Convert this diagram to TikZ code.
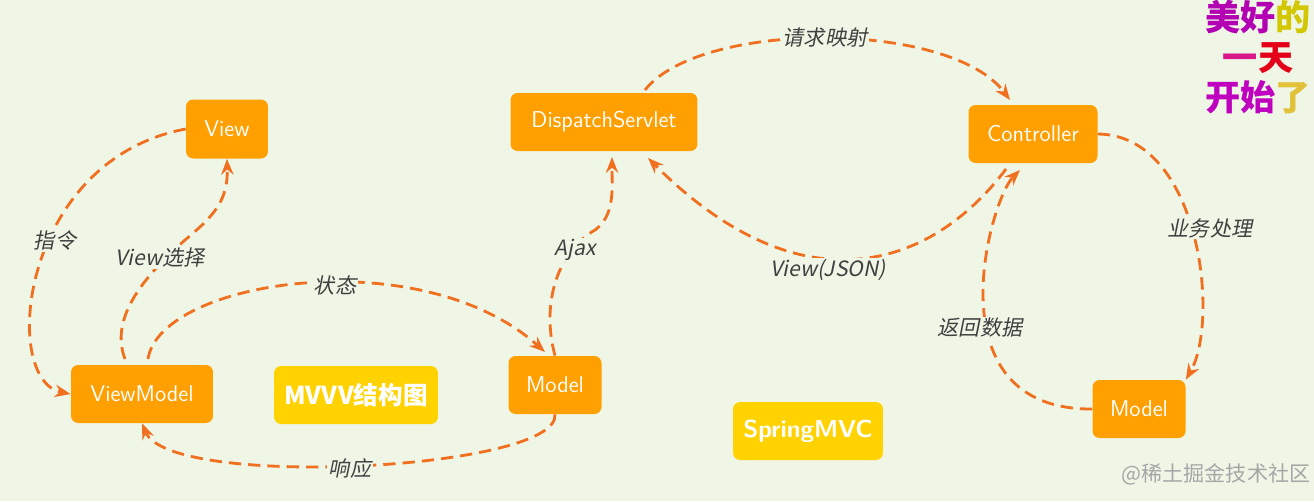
\documentclass[tikz,border=0pt]{standalone}
\usepackage{fontspec}
\setmainfont{Open Sans}
\newfontfamily\cjk{Noto Sans CJK SC}
\newfontfamily\cjki{Noto Sans CJK SC}[FakeSlant=0.2]
\usetikzlibrary{arrows.meta}
\definecolor{bg}{HTML}{EFF6E6}
\definecolor{org}{HTML}{FF9F00}
\definecolor{yel}{HTML}{FFD200}
\definecolor{ln}{HTML}{F07020}
\begin{document}
\begin{tikzpicture}[x=0.02cm,y=-0.02cm,
 box/.style={fill=org,rounded corners=4pt,text=white,font=\sffamily\fontsize{13}{15}\selectfont,inner sep=0pt},
 ybox/.style={box,fill=yel,font=\bfseries\cjk\fontsize{14}{16}\selectfont},
 ar/.style={draw=ln,line width=1.6pt,dash pattern=on 7pt off 4pt,-{Stealth[length=9pt,width=7pt]}},
 lab/.style={font=\cjki\fontsize{12}{14}\selectfont,text=black!75,fill=bg,inner sep=1pt}]
\fill[bg] (0,0) rectangle (1314,501);
\useasboundingbox (0,0) rectangle (1314,501);
\node[box,minimum width=1.64cm,minimum height=1.18cm] (view) at (227,129) {View};
\node[box,minimum width=2.84cm,minimum height=1.16cm] (vm) at (142,394) {ViewModel};
\node[ybox,minimum width=3.28cm,minimum height=1.16cm] (mvvv) at (356,395) {MVVV结构图};
\node[box,minimum width=1.86cm,minimum height=1.16cm] (m1) at (555,385) {Model};
\node[box,minimum width=3.74cm,minimum height=1.16cm] (ds) at (604,122) {DispatchServlet};
\node[box,minimum width=2.58cm,minimum height=1.16cm] (ctl) at (1033,134) {Controller};
\node[box,minimum width=1.86cm,minimum height=1.16cm] (m2) at (1139,409) {Model};
\node[ybox,font=\bfseries\sffamily\fontsize{14}{16}\selectfont,minimum width=3.0cm,minimum height=1.16cm] (sp) at (808,431) {SpringMVC};
\coordinate (b) at (125,359);
\coordinate (c) at (148,359);
\coordinate (d) at (1006,169);
\coordinate (e) at (645,90);
\coordinate (f) at (1010,100);
\coordinate (g) at (545,352);
\coordinate (h) at (612,157);
\coordinate (k) at (648,158);
\coordinate (l) at (1020,170);
\draw[ar] (view.west) .. controls (20,160) and (0,380) .. (vm.west);
\draw[ar] (b) .. controls (110,320) and (140,280) .. (185,240) .. controls (215,215) and (228,200) .. (view.south);
\draw[ar] (c) .. controls (160,280) and (420,240) .. (g);
\draw[ar] (m1.south) .. controls (560,470) and (170,490) .. (vm.south);
\draw[ar] (m1.north) .. controls (540,300) and (560,250) .. (595,230) .. controls (615,215) and (612,190) .. (h);
\draw[ar] (e) .. controls (700,20) and (950,20) .. (f);
\draw[ar] (d) .. controls (930,270) and (800,310) .. (k);
\draw[ar] (ctl.east) .. controls (1200,135) and (1220,320) .. (m2.north east);
\draw[ar] (m2.west) .. controls (930,410) and (990,200) .. (l);
\node[lab] at (55,240) {指令};
\node[lab] at (160,258) {View选择};
\node[lab] at (335,285) {状态};
\node[lab] at (350,468) {响应};
\node[lab] at (575,250) {Ajax};
\node[lab] at (825,38) {请求映射};
\node[lab] at (828,270) {View(JSON)};
\node[lab] at (1210,228) {业务处理};
\node[lab] at (980,328) {返回数据};
\node[font=\bfseries\cjk\fontsize{20}{23}\selectfont,align=center,inner sep=0pt] (t) at (1258,57)
 {\textcolor{violet!60!magenta}{美好}\textcolor{yellow!60!olive}{的}\\\textcolor{magenta!80!violet}{一}\textcolor{red!60!purple}{天}\\\textcolor{violet!50!magenta}{开始}\textcolor{yellow!50!brown}{了}};
\node[font=\cjk\fontsize{12}{14}\selectfont,text=gray!70] (w) at (1216,474) {@稀土掘金技术社区};
\end{tikzpicture}
\end{document}
